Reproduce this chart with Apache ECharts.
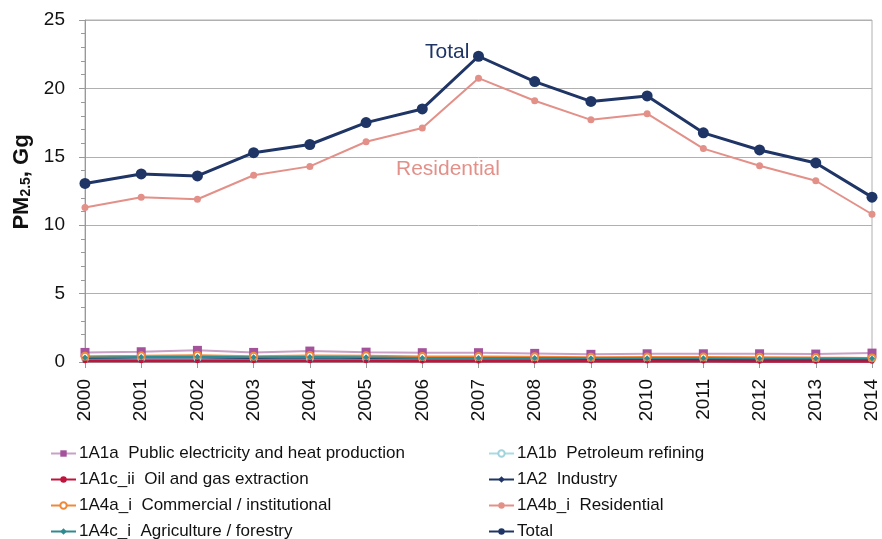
<!DOCTYPE html>
<html>
<head>
<meta charset="utf-8">
<script src="https://cdn.jsdelivr.net/npm/echarts@6/dist/echarts.min.js"></script>
<style>
  html, body { margin: 0; padding: 0; background: #fff; }
  #chart { width: 882px; height: 539px; }
</style>
</head>
<body>
<div id="chart"></div>
<script>
const years = ["2000", "2001", "2002", "2003", "2004", "2005", "2006", "2007",
  "2008", "2009", "2010", "2011", "2012", "2013", "2014"];

const publicElectricity = [0.7, 0.75, 0.85, 0.7, 0.8, 0.72, 0.68, 0.68, 0.63, 0.56, 0.6, 0.6, 0.6, 0.58, 0.65];
const petroleum = [0.28, 0.3, 0.3, 0.28, 0.3, 0.28, 0.27, 0.27, 0.26, 0.25, 0.25, 0.25, 0.24, 0.24, 0.24];
const oilGas = [0.1, 0.1, 0.1, 0.1, 0.1, 0.1, 0.08, 0.08, 0.08, 0.07, 0.07, 0.07, 0.06, 0.06, 0.05];
const industry = [0.3, 0.32, 0.33, 0.3, 0.33, 0.3, 0.25, 0.25, 0.25, 0.22, 0.22, 0.2, 0.2, 0.2, 0.2];
const commercial = [0.42, 0.45, 0.5, 0.42, 0.48, 0.45, 0.4, 0.4, 0.38, 0.35, 0.37, 0.36, 0.35, 0.32, 0.3];
const residential = [11.3, 12.05, 11.9, 13.65, 14.3, 16.1, 17.1, 20.75, 19.1, 17.7, 18.15, 15.6, 14.35, 13.25, 10.8];
const agriculture = [0.33, 0.36, 0.38, 0.34, 0.36, 0.34, 0.3, 0.3, 0.3, 0.28, 0.28, 0.27, 0.26, 0.26, 0.25];
const total = [13.05, 13.75, 13.6, 15.3, 15.9, 17.5, 18.5, 22.35, 20.5, 19.05, 19.45, 16.75, 15.5, 14.55, 12.05];

const yTicks = [0, 5, 10, 15, 20, 25];

const chart = echarts.init(document.getElementById("chart"));
const font = "Liberation Sans, Arial, sans-serif";

function small(name, data, color, symbol, opts) {
  return Object.assign({
    name: name,
    type: "line",
    data: data,
    symbol: symbol,
    symbolSize: 6,
    color: color,
    lineStyle: { width: 2, color: color },
    itemStyle: { color: color },
    z: 2
  }, opts || {});
}

const legendBase = {
  orient: "vertical",
  top: 445,
  height: 100,
  padding: 0,
  itemGap: 9,
  itemWidth: 25,
  itemHeight: 8,
  textStyle: { fontSize: 17, color: "#111", fontFamily: font, padding: [0, 0, 0, -2] }
};

chart.setOption({
  animation: false,
  textStyle: { fontFamily: font },
  grid: {
    left: 85, right: 10, top: 20, bottom: 177,
    show: true, borderColor: "#b0b0b0", borderWidth: 1
  },
  legend: [
    Object.assign({}, legendBase, {
      left: 50,
      data: ["1A1a  Public electricity and heat production", "1A1c_ii  Oil and gas extraction",
        "1A4a_i  Commercial / institutional", "1A4c_i  Agriculture / forestry"]
    }),
    Object.assign({}, legendBase, {
      left: 488,
      data: ["1A1b  Petroleum refining", "1A2  Industry", "1A4b_i  Residential", "Total"]
    })
  ],
  xAxis: {
    type: "category",
    data: years,
    boundaryGap: false,
    axisLine: { lineStyle: { color: "#999" } },
    axisTick: { show: true, inside: false, length: 6, lineStyle: { color: "#999" } },
    axisLabel: { rotate: 90, fontSize: 19, color: "#111", margin: 17, fontFamily: font },
    splitLine: { show: false }
  },
  yAxis: {
    type: "value",
    min: 0, max: 25, interval: 5,
    name: "{a|PM}{b|2.5}{a|, Gg}",
    nameLocation: "middle",
    nameGap: 52,
    nameRotate: 90,
    nameTextStyle: {
      padding: [0, 0, 0, 18],
      rich: {
        a: { fontSize: 22, fontWeight: "bold", color: "#111", fontFamily: font },
        b: { fontSize: 14, fontWeight: "bold", color: "#111", fontFamily: font, padding: [9, 0, 0, 0] }
      }
    },
    axisLine: { show: true, lineStyle: { color: "#999" } },
    axisTick: { show: true, length: 6, lineStyle: { color: "#999" } },
    minorTick: { show: true, splitNumber: 5, length: 4, lineStyle: { color: "#999" } },
    axisLabel: {
      fontSize: 19, color: "#111", margin: 20, fontFamily: font,
      formatter: function (v) { return yTicks.indexOf(v) >= 0 ? String(v) : ""; }
    },
    splitLine: { show: true, lineStyle: { color: "#b0b0b0" } }
  },
  graphic: [
    { type: "text", left: 425, top: 42, style: { text: "Total", fontSize: 21, fill: "#1f3566", fontFamily: font } },
    { type: "text", left: 396, top: 159, style: { text: "Residential", fontSize: 21, fill: "#e39089", fontFamily: font } }
  ],
  series: [
    small("1A1a  Public electricity and heat production", publicElectricity, "#a4529b", "rect",
      { symbolSize: 9, lineStyle: { width: 2, color: "#c9a0c6" } }),
    small("1A1b  Petroleum refining", petroleum, "#9fd4dc", "emptyCircle", { lineStyle: { width: 1.5, color: "#a8dbe3" } }),
    small("1A1c_ii  Oil and gas extraction", oilGas, "#c0143c", "circle", { symbolSize: 5, lineStyle: { width: 3, color: "#c0143c" } }),
    small("1A2  Industry", industry, "#1f3566", "diamond", { symbolSize: 7 }),
    small("1A4a_i  Commercial / institutional", commercial, "#f0883a", "emptyCircle", { symbolSize: 7 }),
    small("1A4b_i  Residential", residential, "#e39089", "circle", { symbolSize: 7, z: 3 }),
    small("1A4c_i  Agriculture / forestry", agriculture, "#2e8b8f", "diamond", { symbolSize: 6 }),
    {
      name: "Total",
      type: "line",
      data: total,
      symbol: "circle",
      symbolSize: 11,
      color: "#1f3566",
      lineStyle: { width: 3, color: "#1f3566" },
      itemStyle: { color: "#1f3566" },
      z: 4
    }
  ]
});

window.addEventListener("resize", function () {
  chart.resize();
});
</script>
</body>
</html>
